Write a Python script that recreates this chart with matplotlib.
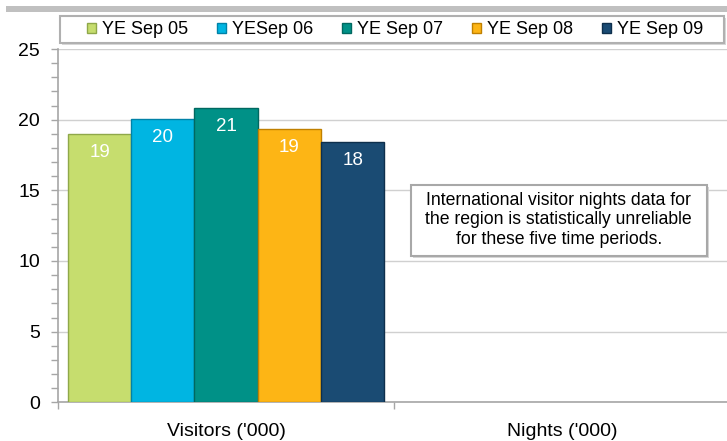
import matplotlib
matplotlib.use("Agg")
import matplotlib.pyplot as plt
from matplotlib.patches import Rectangle
from matplotlib.transforms import Affine2D
import numpy as np

plt.rcParams['font.family'] = ['Liberation Sans', 'DejaVu Sans']

categories = ["Visitors ('000)", "Nights ('000)"]
series_names = ["YE Sep 05", "YESep 06", "YE Sep 07", "YE Sep 08", "YE Sep 09"]
visitors = [18.98, 20.06, 20.82, 19.31, 18.39]
labels = ["19", "20", "21", "19", "18"]
colors = ["#c6dd6e", "#00b5e2", "#009187", "#fdb515", "#1a4b73"]
edges = ["#8fa84a", "#0082a8", "#006860", "#c08000", "#0e2f4c"]
note = "International visitor nights data for\nthe region is statistically unreliable\nfor these five time periods."

W, H = 727, 441
fig = plt.figure(figsize=(W/100, H/100), dpi=100)
ax = fig.add_axes([58.3/W, (H-402.3)/H, 671.4/W, (402.3-49)/H])

# pixel transform (origin top-left)
px = Affine2D().scale(1/W, -1/H).translate(0, 1) + fig.transFigure

bw = 0.1886
offsets = (np.arange(5) - 2) * bw
for i in range(5):
    ax.bar(0 + offsets[i], visitors[i], width=bw, color=colors[i],
           edgecolor=edges[i], linewidth=1.0, label=series_names[i], zorder=3)
    ax.text(0 + offsets[i], visitors[i] - 1.3, labels[i], ha='center', va='center',
            color='white', fontsize=13.5, zorder=4)

ax.set_xlim(-0.5, 1.5)
ax.set_ylim(0, 25)
ax.set_yticks(np.arange(0, 26, 5))
ax.set_yticks(np.arange(0, 26, 1), minor=True)
ax.yaxis.grid(True, color='#d0d0d0', linewidth=1.0, zorder=0)
ax.set_axisbelow(True)
ax.set_xticks([0, 1])
ax.set_xticklabels(categories)
ax.set_xticks([-0.5, 0.5, 1.5], minor=True)
ax.tick_params(axis='x', which='major', length=0, pad=15, labelsize=14)
ax.tick_params(axis='x', which='minor', length=5, color='#a6a6a6', width=1)
ax.tick_params(axis='y', which='both', length=5, color='#a6a6a6', width=1)
ax.tick_params(axis='y', which='major', pad=8, labelsize=14)
for s in ['top', 'right']:
    ax.spines[s].set_visible(False)
for s in ['left', 'bottom']:
    ax.spines[s].set_color('#a6a6a6')
    ax.spines[s].set_linewidth(1.2)

# note box with light shadow
fig.patches.append(Rectangle((413, 187), 296, 71, transform=px, facecolor='#d8d8d8',
                             edgecolor='none', zorder=5))
fig.patches.append(Rectangle((410.7, 185), 296, 71, transform=px, facecolor='white',
                             edgecolor='#a8a8a8', linewidth=1.5, zorder=6))
fig.text(558.7, 220, note, transform=px, ha='center', va='center', fontsize=12.7,
         linespacing=1.22, zorder=7)

# legend frame with light shadow
fig.patches.append(Rectangle((62, 18), 664, 27, transform=px, facecolor='#d8d8d8',
                             edgecolor='none', zorder=5))
fig.patches.append(Rectangle((60, 16), 664, 27, transform=px, facecolor='white',
                             edgecolor='#b0b0b0', linewidth=1.5, zorder=6))
leg = fig.legend(loc='center', bbox_to_anchor=(395/W, 1-30/H),
                 ncol=5, frameon=False, fontsize=13,
                 handlelength=0.5, handleheight=0.5, handletextpad=0.3,
                 columnspacing=1.63, borderaxespad=0, borderpad=0)
leg.set_zorder(8)

# top decorative gray band
fig.patches.append(Rectangle((6, 6), 721, 6, transform=px,
                             facecolor='#c0c0c0', edgecolor='none'))

fig.savefig("out.png", dpi=100)
